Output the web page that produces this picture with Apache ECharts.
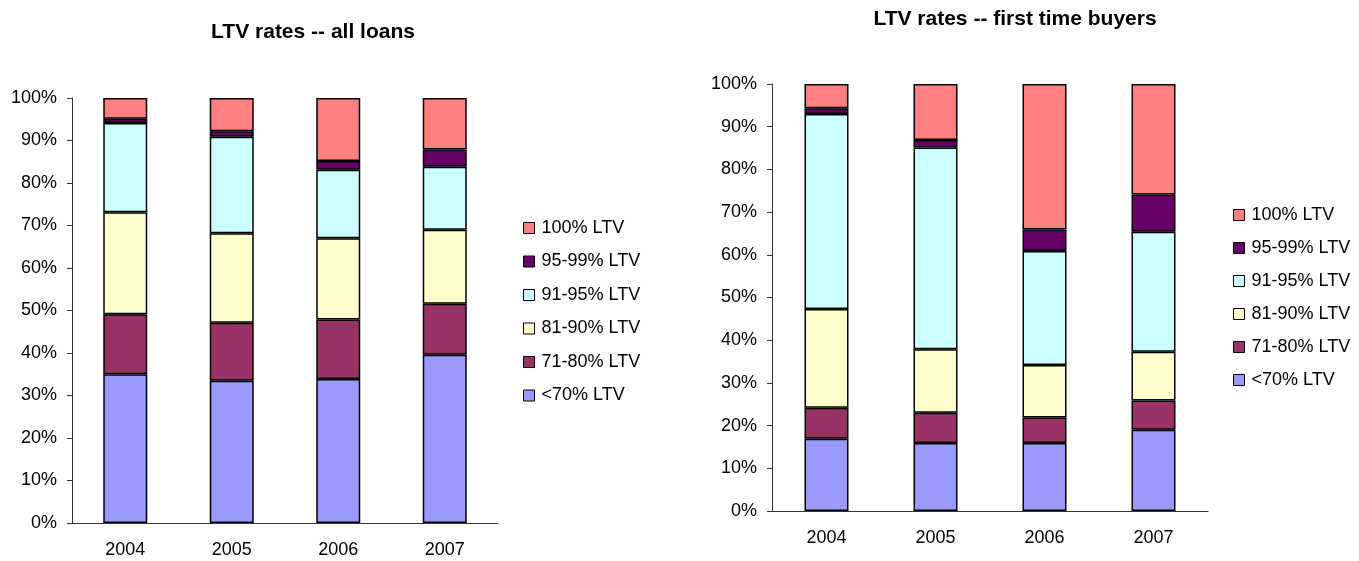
<!DOCTYPE html>
<html>
<head>
<meta charset="utf-8">
<script src="https://cdn.jsdelivr.net/npm/echarts@6/dist/echarts.min.js"></script>
<style>
  html, body { margin: 0; padding: 0; background: #fff; }
  #chart { width: 1359px; height: 561px; }
</style>
</head>
<body>
<div id="chart"></div>
<script>
// categories and bands
const years = ["2004", "2005", "2006", "2007"];
const bandNames = ["<70% LTV", "71-80% LTV", "81-90% LTV", "91-95% LTV", "95-99% LTV", "100% LTV"];

// LTV rates -- all loans (% of loans)
const allUnder70 = [35.0, 33.5, 33.9, 39.6];
const all71to80 = [14.1, 13.6, 14.0, 12.0];
const all81to90 = [24.0, 21.1, 19.1, 17.4];
const all91to95 = [21.0, 22.7, 16.1, 14.8];
const all95to99 = [1.0, 1.3, 2.1, 4.1];
const all100 = [4.9, 7.8, 14.8, 12.1];

// LTV rates -- first time buyers (% of loans)
const ftbUnder70 = [16.9, 15.9, 15.9, 19.0];
const ftb71to80 = [7.3, 7.1, 6.0, 6.9];
const ftb81to90 = [23.1, 14.9, 12.3, 11.4];
const ftb91to95 = [45.7, 47.2, 26.7, 28.1];
const ftb95to99 = [1.3, 1.8, 5.0, 8.7];
const ftb100 = [5.7, 13.1, 34.1, 25.9];

const bandColors = ["#9999ff", "#993366", "#ffffcc", "#ccffff", "#660066", "#ff8080"];
const FONT = "Liberation Sans, Arial, sans-serif";

const allData = [allUnder70, all71to80, all81to90, all91to95, all95to99, all100];
const ftbData = [ftbUnder70, ftb71to80, ftb81to90, ftb91to95, ftb95to99, ftb100];

function makeSeries(data, idx, stack) {
  return data.map((vals, i) => ({
    name: bandNames[i],
    type: "bar",
    stack: stack,
    xAxisIndex: idx,
    yAxisIndex: idx,
    barWidth: 44,
    data: vals,
    itemStyle: { color: bandColors[i], borderColor: "#000", borderWidth: 1.5 },
  }));
}

function xAxisFor(idx) {
  return {
    type: "category",
    gridIndex: idx,
    data: years,
    axisLine: { lineStyle: { color: "#333", width: 1 } },
    axisTick: { length: 5, lineStyle: { color: "#333" } },
    axisLabel: { color: "#000", fontSize: 18, fontFamily: FONT, margin: 18 },
  };
}

function yAxisFor(idx) {
  return {
    type: "value",
    gridIndex: idx,
    min: 0,
    max: 100,
    interval: 10,
    axisLine: { show: true, lineStyle: { color: "#333", width: 1 } },
    axisTick: { show: true, length: 5, lineStyle: { color: "#333" } },
    splitLine: { show: false },
    axisLabel: { color: "#000", fontSize: 18, fontFamily: FONT, margin: 15, formatter: "{value}%" },
  };
}

function legendFor(left, top, gap) {
  return {
    orient: "vertical",
    left: left,
    top: top,
    padding: 0,
    itemGap: gap,
    itemWidth: 11,
    itemHeight: 11,
    icon: "rect",
    selectedMode: false,
    data: bandNames.slice().reverse(),
    itemStyle: { borderColor: "#000", borderWidth: 1 },
    textStyle: { color: "#000", fontSize: 18, fontFamily: FONT, lineHeight: 20, padding: [0, 0, 0, 2] },
  };
}

const chart = echarts.init(document.getElementById("chart"));
chart.setOption({
  animation: false,
  backgroundColor: "#fff",
  title: [
    {
      text: "LTV rates -- all loans",
      left: 308,
      top: 17,
      textAlign: "center",
      textStyle: { fontSize: 21, fontWeight: "bold", color: "#000", fontFamily: FONT },
    },
    {
      text: "LTV rates -- first time buyers",
      left: 1010,
      top: 4,
      textAlign: "center",
      textStyle: { fontSize: 21, fontWeight: "bold", color: "#000", fontFamily: FONT },
    },
  ],
  legend: [legendFor(523, 218, 13.5), legendFor(1233, 205, 13)],
  grid: [
    { left: 72, top: 98, width: 426, height: 425 },
    { left: 772, top: 84, width: 436, height: 427 },
  ],
  xAxis: [xAxisFor(0), xAxisFor(1)],
  yAxis: [yAxisFor(0), yAxisFor(1)],
  series: makeSeries(allData, 0, "all").concat(makeSeries(ftbData, 1, "ftb")),
});
</script>
</body>
</html>
